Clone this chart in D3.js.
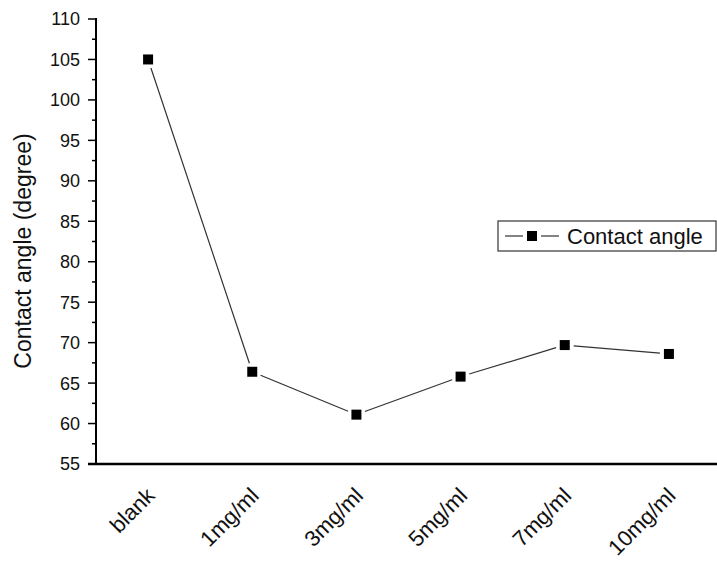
<!DOCTYPE html>
<html>
<head>
<meta charset="utf-8">
<script src="https://cdn.jsdelivr.net/npm/d3@7"></script>
<style>
  body { margin: 0; background: #fff; }
  text { font-family: "Liberation Sans", Arial, sans-serif; fill: #111; }
</style>
</head>
<body>
<div id="chart"></div>
<script>
// data
var categories = ["blank", "1mg/ml", "3mg/ml", "5mg/ml", "7mg/ml", "10mg/ml"];
var contactAngle = [105, 66.4, 61.1, 65.8, 69.7, 68.6];
var yTicks = [55, 60, 65, 70, 75, 80, 85, 90, 95, 100, 105, 110];
var seriesName = "Contact angle";
var yTitle = "Contact angle (degree)";

var width = 717, height = 561;
var margins = {left: 96, top: 19, right: -4, bottom: 97};

var svg = d3.select("#chart").append("svg")
    .attr("width", width)
    .attr("height", height);

var x = d3.scaleBand()
    .domain(categories)
    .range([margins.left, width - margins.right]);
var y = d3.scaleLinear()
    .domain([55, 110])
    .range([height - margins.bottom, margins.top]);

var pts = categories.map(function(c, i) {
    return {x: x(c) + x.bandwidth() / 2, y: y(contactAngle[i])};
});

// y axis: major ticks with labels, minor ticks in between
var minor = d3.range(57.5, 110, 5);
svg.append("g").selectAll("line.minor")
    .data(minor).enter().append("line")
    .attr("x1", margins.left - 4).attr("x2", margins.left)
    .attr("y1", d => y(d)).attr("y2", d => y(d))
    .attr("stroke", "#000").attr("stroke-width", 1.5);
svg.append("g").selectAll("line.major")
    .data(yTicks).enter().append("line")
    .attr("x1", margins.left - 8).attr("x2", margins.left)
    .attr("y1", d => y(d)).attr("y2", d => y(d))
    .attr("stroke", "#000").attr("stroke-width", 1.5);
svg.append("g").selectAll("text")
    .data(yTicks).enter().append("text")
    .attr("x", margins.left - 16)
    .attr("y", d => y(d))
    .attr("dy", "0.36em")
    .attr("text-anchor", "end")
    .style("font-size", "18px")
    .text(d => d);

svg.append("line")
    .attr("x1", margins.left).attr("x2", margins.left)
    .attr("y1", y(110) - 1).attr("y2", y(55) + 1)
    .attr("stroke", "#000").attr("stroke-width", 2);
svg.append("line")
    .attr("x1", margins.left - 8).attr("x2", width)
    .attr("y1", y(55)).attr("y2", y(55))
    .attr("stroke", "#000").attr("stroke-width", 2.5);

// x labels, rotated
svg.append("g").selectAll("text")
    .data(categories).enter().append("text")
    .attr("transform", d => "translate(" + (x(d) + x.bandwidth() / 2 + 8) + "," + (y(55) + 33) + ") rotate(-45)")
    .attr("text-anchor", "end")
    .style("font-size", "22px")
    .text(d => d);

// y title
svg.append("text")
    .attr("transform", "translate(31,251) rotate(-90)")
    .attr("text-anchor", "middle")
    .style("font-size", "23px")
    .text(yTitle);

// line segments with a gap at each marker
var gap = 9;
var segs = d3.pairs(pts).map(function(p) {
    var dx = p[1].x - p[0].x, dy = p[1].y - p[0].y;
    var len = Math.sqrt(dx * dx + dy * dy);
    var ux = dx / len, uy = dy / len;
    return {x1: p[0].x + ux * gap, y1: p[0].y + uy * gap, x2: p[1].x - ux * gap, y2: p[1].y - uy * gap};
});
svg.append("g").selectAll("line")
    .data(segs).enter().append("line")
    .attr("x1", d => d.x1).attr("y1", d => d.y1)
    .attr("x2", d => d.x2).attr("y2", d => d.y2)
    .attr("stroke", "#333").attr("stroke-width", 1.2);

svg.append("g").selectAll("rect")
    .data(pts).enter().append("rect")
    .attr("x", d => d.x - 5).attr("y", d => d.y - 5)
    .attr("width", 10).attr("height", 10)
    .attr("fill", "#000");

// legend
var lg = svg.append("g").attr("transform", "translate(498,221)");
lg.append("rect")
    .attr("width", 218).attr("height", 30)
    .attr("fill", "#fff").attr("stroke", "#333").attr("stroke-width", 1.2);
lg.append("line").attr("x1", 7).attr("x2", 25).attr("y1", 15).attr("y2", 15)
    .attr("stroke", "#333").attr("stroke-width", 1.2);
lg.append("line").attr("x1", 43).attr("x2", 61).attr("y1", 15).attr("y2", 15)
    .attr("stroke", "#333").attr("stroke-width", 1.2);
lg.append("rect").attr("x", 29).attr("y", 10).attr("width", 10).attr("height", 10).attr("fill", "#000");
lg.append("text")
    .attr("x", 69).attr("y", 23)
    .style("font-size", "22px")
    .text(seriesName);
</script>
</body>
</html>
